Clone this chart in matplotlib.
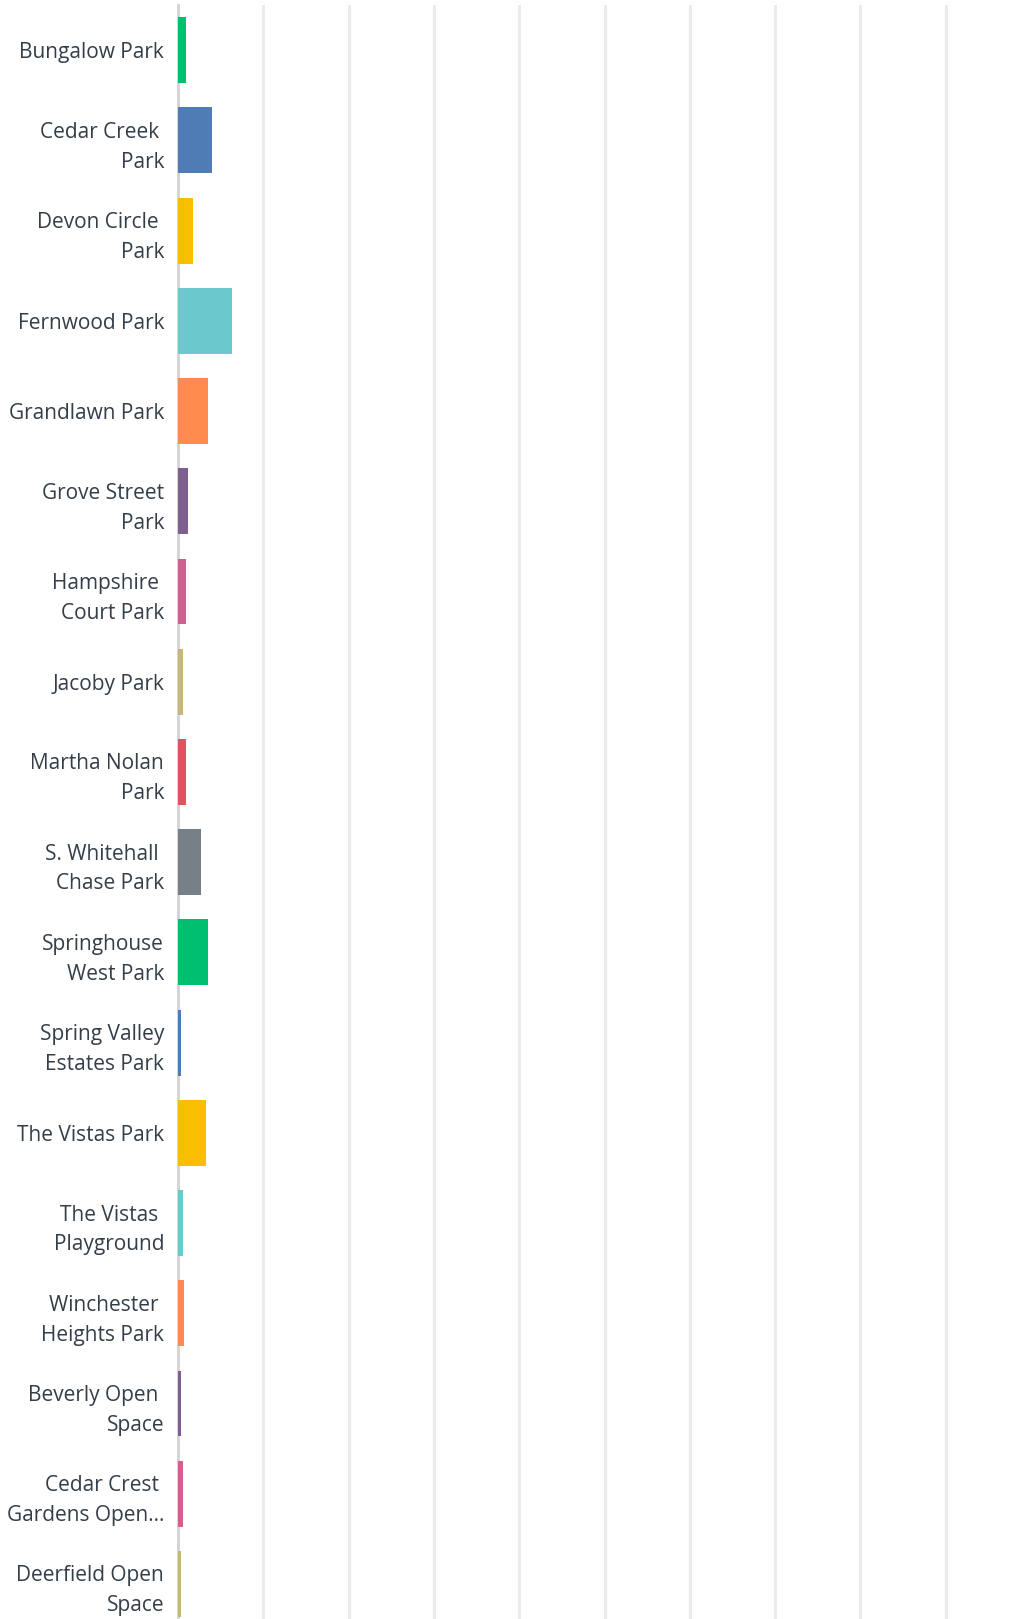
import matplotlib.pyplot as plt

# Survey responses per park (percent of respondents)
parks = [
    "Bungalow Park",
    "Cedar Creek \nPark",
    "Devon Circle \nPark",
    "Fernwood Park",
    "Grandlawn Park",
    "Grove Street\nPark",
    "Hampshire \nCourt Park",
    "Jacoby Park",
    "Martha Nolan\nPark",
    "S. Whitehall \nChase Park",
    "Springhouse\nWest Park",
    "Spring Valley\nEstates Park",
    "The Vistas Park",
    "The Vistas \nPlayground",
    "Winchester \nHeights Park",
    "Beverly Open \nSpace",
    "Cedar Crest \nGardens Open…",
    "Deerfield Open\nSpace",
]
share = [0.94, 4.0, 1.76, 6.3, 3.5, 1.17, 0.94, 0.59, 0.94, 2.7,
         3.5, 0.35, 3.3, 0.59, 0.7, 0.35, 0.59, 0.35]

palette = ["#00bf6f", "#507cb6", "#f9be00", "#6bc8cd", "#ff8b4f",
           "#7f5f90", "#d25f90", "#c7b879", "#e05260", "#768086"]
colors = [palette[i % len(palette)] for i in range(len(parks))]

W, H = 1024, 1619
fig = plt.figure(figsize=(W / 100, H / 100), dpi=100)
left = 178 / W
ax = fig.add_axes([left, 0, 1 - left, (H - 5) / H])

y = list(range(len(parks)))
ax.barh(y, share, height=0.73, color=colors, zorder=3)

ax.set_xlim(0, (W - 178) / 85.3 * 10)
ax.set_ylim(17 + 35 / 90.2, -0.5)
ax.set_xticks(range(10, 100, 10))
ax.xaxis.grid(True, color="#ebebeb", linewidth=2.2, zorder=0)
ax.tick_params(axis="x", length=0, labelbottom=False)
ax.tick_params(axis="y", length=0, pad=10)

ax.set_yticks(y)
ax.set_yticklabels(parks, fontsize=15, color="#333e48",
                   family=["Open Sans", "DejaVu Sans"], linespacing=1.55,
                   ha="right")

for side in ["top", "right", "bottom"]:
    ax.spines[side].set_visible(False)
ax.spines["left"].set_color("#d3d3d3")
ax.spines["left"].set_linewidth(2)
ax.spines["left"].set_zorder(2)

fig.savefig("out.png", dpi=100)
